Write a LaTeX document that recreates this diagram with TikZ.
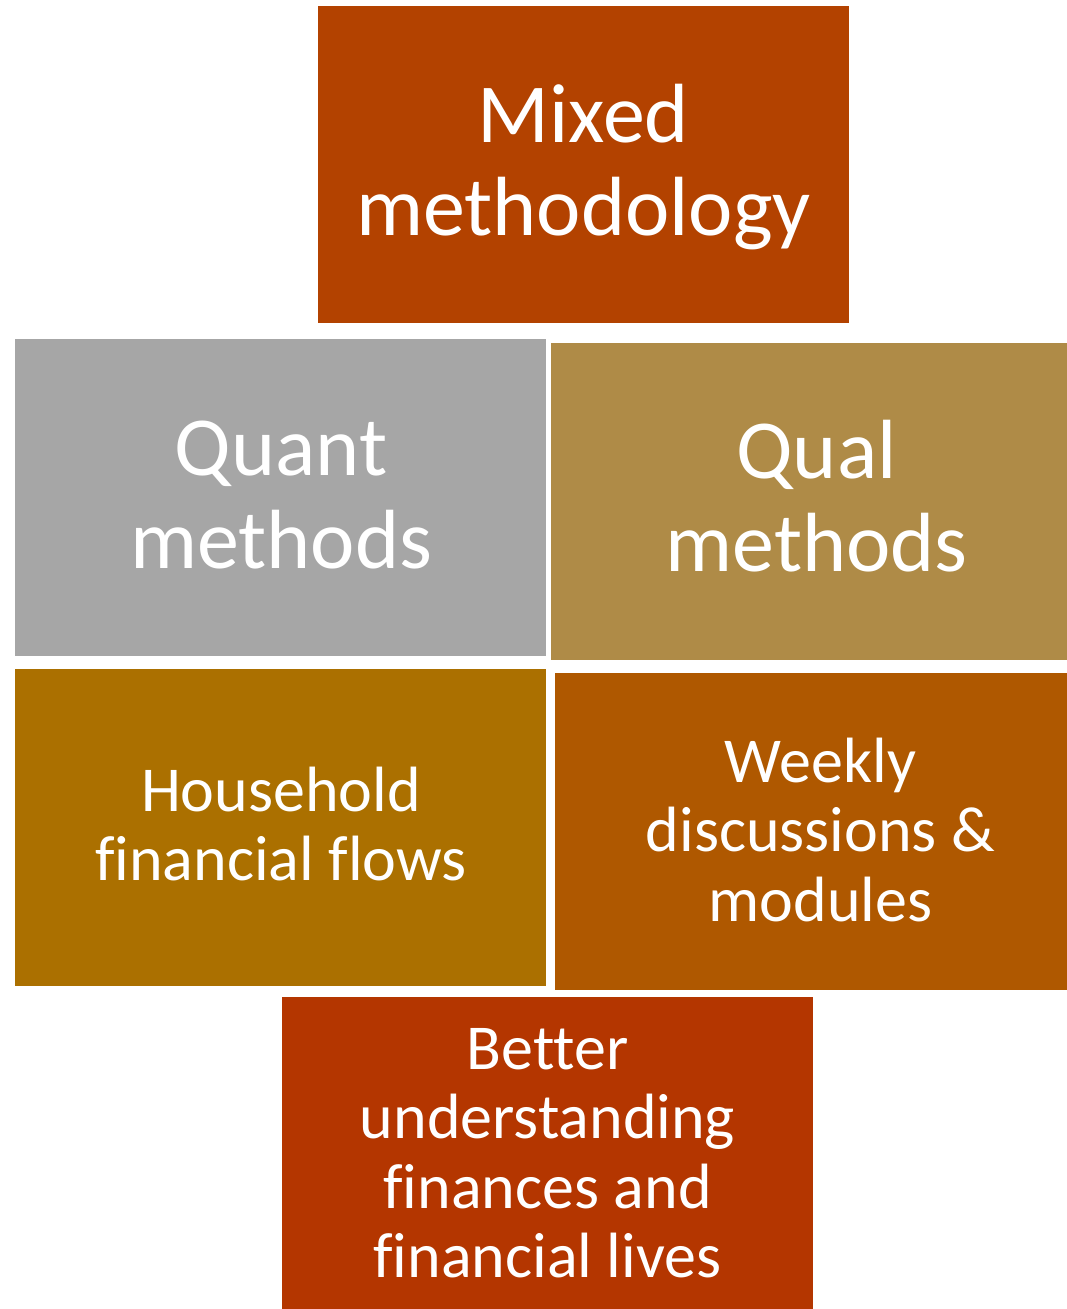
\documentclass[tikz,border=0pt]{standalone}
\usepackage{fontspec}
\setmainfont{Carlito}[Ligatures=NoCommon]
\definecolor{rust}{RGB}{179,66,0}
\definecolor{slate}{RGB}{166,166,166}
\definecolor{khaki}{RGB}{175,139,71}
\definecolor{ochre}{RGB}{171,112,0}
\definecolor{amber}{RGB}{175,88,0}
\definecolor{brick}{RGB}{180,54,0}
\begin{document}
\begin{tikzpicture}[x=0.5pt,y=-0.5pt,
  tile/.style={draw=none, inner sep=0pt, minimum width=265.5pt,
    minimum height=158.5pt, anchor=north west},
  bigtext/.style={text=white, align=center, inner sep=0pt, anchor=north,
    font=\fontsize{42}{46.5}\selectfont},
  smalltext/.style={text=white, align=center, inner sep=0pt, anchor=north,
    font=\fontsize{32}{34.75}\selectfont}]
\useasboundingbox (0,0) rectangle (1066,1309);
% coloured tiles
\node[tile, fill=rust]  (mixed)  at (318,6)   {};
\node[tile, fill=slate] (quant)  at (15,339)  {};
\node[tile, fill=khaki] (qual)   at (551,343) {};
\node[tile, fill=ochre] (flows)  at (15,669)  {};
\node[tile, fill=amber] (weekly) at (555,673) {};
\node[tile, fill=brick] (better) at (282,997) {};
% tile captions
\node[bigtext]   (mixedtxt)  at (583.5,76.9)  {\strut Mixed\\methodology};
\node[bigtext]   (quanttxt)  at (281,409.9)   {\strut Quant\\methods};
\node[bigtext]   (qualtxt)   at (816.5,412.9) {\strut Qual\\methods};
\node[smalltext] (flowstxt)  at (281,762.35)  {\strut Household\\financial flows};
\node[smalltext] (weeklytxt) at (820.5,733.35) {\strut Weekly\\discussions \&\\modules};
\node[smalltext] (bettertxt) at (547.5,1020.35) {\strut Better\\understanding\\finances and\\financial lives};
\end{tikzpicture}
\end{document}
